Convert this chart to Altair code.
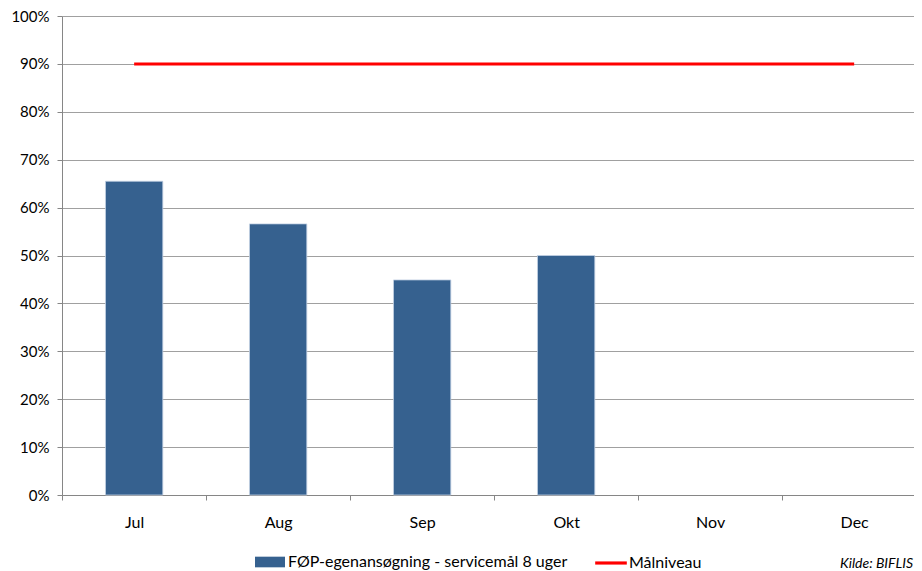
import altair as alt
import pandas as pd

months = ["Jul", "Aug", "Sep", "Okt", "Nov", "Dec"]
bar_months = ["Jul", "Aug", "Sep", "Okt"]
bar_values = [0.655, 0.566, 0.449, 0.500]
target_values = [0.9, 0.9, 0.9, 0.9, 0.9, 0.9]
bar_label = "FØP-egenansøgning - servicemål 8 uger"
line_label = "Målniveau"
source_note = ["Kilde: BIFLIS"]

bars_df = pd.DataFrame({"month": bar_months, "value": bar_values, "series": [bar_label] * len(bar_months)})
line_df = pd.DataFrame({"month": months, "value": target_values, "series": [line_label] * len(months)})
note_df = pd.DataFrame({"note": source_note})

FONT = "Lato"
W = 852
STEP = 144.0
P_INNER = 0.602
x_scale = alt.Scale(domain=months, paddingInner=P_INNER, paddingOuter=0.2593, align=0.5823)
y_scale = alt.Scale(domain=[0, 1])
half_gap = STEP * P_INNER / 2

x_enc = alt.X("month:N", scale=x_scale, sort=months, title=None,
              axis=alt.Axis(labelAngle=0, bandPosition=0, tickOffset=-half_gap, labelOffset=half_gap,
                            tickSize=5, labelPadding=14, domainColor="#868686", tickColor="#868686",
                            grid=False, labelFontSize=16, labelFont=FONT, labelColor="#000000"))
y_enc = alt.Y("value:Q", scale=y_scale, title=None,
              axis=alt.Axis(format=".0%", values=[i / 10 for i in range(11)], tickSize=5,
                            labelPadding=8, domainColor="#868686", tickColor="#868686",
                            gridColor="#a0a0a0", grid=True,
                            labelFontSize=15, labelFont=FONT, labelColor="#000000"))

bars = alt.Chart(bars_df).mark_bar(stroke="#c3d1e3", strokeWidth=0.8).encode(
    x=x_enc,
    y=y_enc,
    color=alt.Color("series:N", scale=alt.Scale(domain=[bar_label], range=["#36618f"]),
                    legend=alt.Legend(title=None, orient="none", legendX=193, legendY=531,
                                      symbolType="M-1,-0.355H1V0.355H-1Z", symbolSize=900,
                                      symbolStrokeWidth=0, labelFontSize=16, labelFont=FONT,
                                      labelColor="#000000", labelOffset=3, labelLimit=0)),
)

line = alt.Chart(line_df).mark_line(strokeWidth=3).encode(
    x=alt.X("month:N", scale=x_scale, sort=months),
    y=alt.Y("value:Q", scale=y_scale),
    stroke=alt.Stroke("series:N", scale=alt.Scale(domain=[line_label], range=["#ff0000"]),
                      legend=alt.Legend(title=None, orient="none", legendX=533, legendY=531,
                                        symbolType="M-1,-0.1H1V0.1H-1Z", symbolSize=1000,
                                        symbolFillColor="#ff0000", symbolStrokeWidth=0,
                                        labelFontSize=16, labelFont=FONT,
                                        labelColor="#000000", labelOffset=2, labelLimit=0)),
)

note = alt.Chart(note_df).mark_text(align="right", baseline="middle", fontStyle="italic",
                                    fontSize=14, font=FONT, color="#000000").encode(
    x=alt.value(W - 1),
    y=alt.value(548),
    text="note:N",
)

chart = alt.layer(bars, line, note).properties(
    width=W,
    height=479,
    padding={"left": 54, "top": 8, "right": 0, "bottom": 76},
    autosize=alt.AutoSizeParams(type="none"),
).configure_view(stroke=None)

chart.save("out.html", embed_options={"renderer": "svg", "actions": False})
